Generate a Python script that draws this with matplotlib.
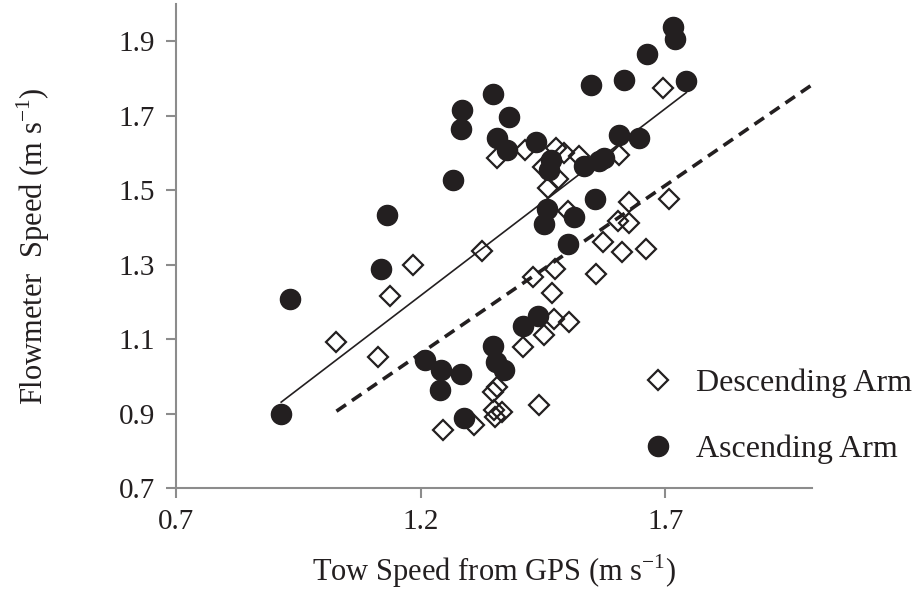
import numpy as np
import matplotlib
matplotlib.use("Agg")
from matplotlib import pyplot as plt

plt.rcParams['font.family'] = 'Liberation Serif'
plt.rcParams['mathtext.fontset'] = 'custom'
plt.rcParams['mathtext.rm'] = 'Liberation Serif'

# descending arm: tow speed from GPS vs flowmeter speed
desc_x = [1.028, 1.112, 1.137, 1.184, 1.245, 1.309, 1.325, 1.357, 1.413, 1.477,
          1.493, 1.524, 1.450, 1.481, 1.460, 1.501, 1.606, 1.696, 1.626, 1.708,
          1.603, 1.626, 1.573, 1.612, 1.661, 1.559, 1.430, 1.475, 1.468, 1.473,
          1.503, 1.452, 1.409, 1.357, 1.347, 1.442, 1.350, 1.366, 1.352]
desc_y = [1.091, 1.051, 1.215, 1.298, 0.855, 0.869, 1.337, 1.587, 1.609, 1.614,
          1.600, 1.592, 1.563, 1.531, 1.507, 1.445, 1.595, 1.775, 1.467, 1.477,
          1.418, 1.413, 1.360, 1.333, 1.343, 1.274, 1.266, 1.287, 1.225, 1.153,
          1.145, 1.110, 1.078, 0.971, 0.957, 0.922, 0.909, 0.904, 0.892]

# ascending arm
asc_x = [0.915, 0.932, 1.120, 1.132, 1.208, 1.241, 1.282, 1.239, 1.288, 1.266,
         1.284, 1.282, 1.347, 1.356, 1.380, 1.376, 1.436, 1.348, 1.354, 1.371,
         1.409, 1.440, 1.458, 1.452, 1.466, 1.462, 1.501, 1.514, 1.534, 1.557,
         1.565, 1.575, 1.548, 1.606, 1.616, 1.647, 1.663, 1.716, 1.720, 1.743]
asc_y = [0.898, 1.207, 1.289, 1.432, 1.043, 1.016, 1.007, 0.962, 0.888, 1.528,
         1.716, 1.665, 1.759, 1.641, 1.697, 1.609, 1.630, 1.081, 1.038, 1.016,
         1.134, 1.161, 1.450, 1.410, 1.580, 1.555, 1.355, 1.427, 1.566, 1.477,
         1.578, 1.587, 1.783, 1.648, 1.797, 1.641, 1.866, 1.939, 1.906, 1.794]

# linear trends (slope, intercept)
asc_fit = (1.004, 0.012)
desc_fit = (0.902, -0.021)

xticks = [0.7, 1.2, 1.7]
yticks = [0.7, 0.9, 1.1, 1.3, 1.5, 1.7, 1.9]

fig = plt.figure(figsize=(9.18, 5.92), dpi=100)
ax = fig.add_axes([176/918, 1 - 488/592, (812-176)/918, (488-4)/592])

ax.plot(desc_x, desc_y, linestyle='none', marker='D', markersize=10,
        markerfacecolor='none', markeredgecolor='#231f20', markeredgewidth=1.6,
        label='Descending Arm', zorder=2)

xa = np.array([min(asc_x), max(asc_x)])
ax.plot(xa, asc_fit[0]*xa + asc_fit[1], color='#231f20', lw=1.2, zorder=3)
xd = np.array([min(desc_x), 2.0])
ax.plot(xd, desc_fit[0]*xd + desc_fit[1], color='#231f20', lw=2.6,
        dashes=(3.2, 2.0), zorder=3)

ax.plot(asc_x, asc_y, linestyle='none', marker='o', markersize=14.5,
        markerfacecolor='#231f20', markeredgecolor='#231f20',
        label='Ascending Arm', zorder=4)

ax.set_xlim(0.7, 2.0)
ax.set_ylim(0.7, 2.0)
ax.set_xticks(xticks)
ax.set_yticks(yticks)
ax.set_xticklabels([f"{t:.1f}" for t in xticks])
ax.set_yticklabels([f"{t:.1f}" for t in yticks])

for s in ['top', 'right']:
    ax.spines[s].set_visible(False)
for s in ['left', 'bottom']:
    ax.spines[s].set_color('#8c8c8c')
    ax.spines[s].set_linewidth(1.5)
ax.tick_params(axis='both', direction='out', length=7, width=1.5,
               color='#8c8c8c', labelsize=21, labelcolor='#231f20')
ax.tick_params(axis='y', pad=8)
ax.tick_params(axis='x', pad=8)

ax.set_xlabel(r"Tow Speed from GPS (m s$^{\mathregular{-1}}$)", fontsize=22,
              color='#231f20', labelpad=13)
ax.set_ylabel(r"Flowmeter  Speed (m s$^{\mathregular{-1}}$)", fontsize=22,
              color='#231f20', labelpad=48)

ax.legend(loc='upper left', bbox_to_anchor=(0.687, 0.306), frameon=False,
          fontsize=23, labelspacing=1.15, handlelength=1.0, handletextpad=0.7,
          labelcolor='#231f20')

fig.savefig("out.png", dpi=100)
